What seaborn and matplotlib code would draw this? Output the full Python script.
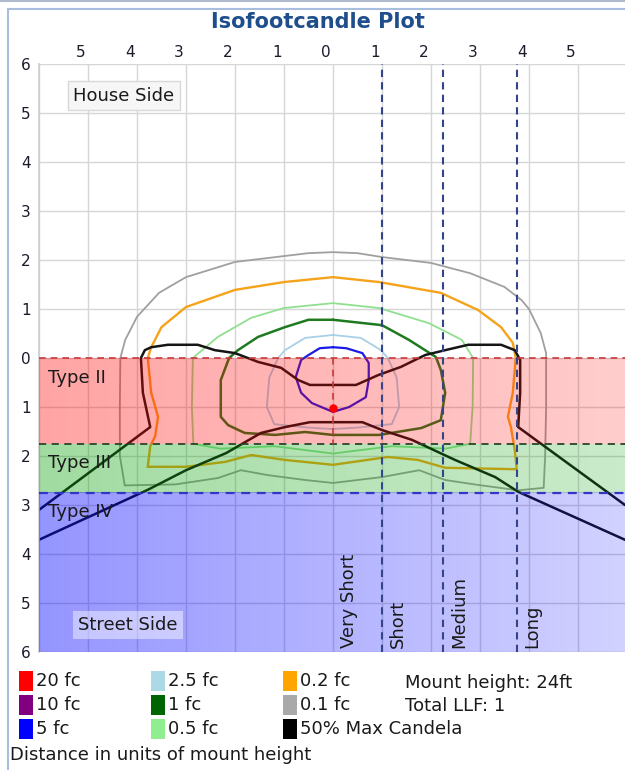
import numpy as np
import matplotlib
matplotlib.use("Agg")
import matplotlib.pyplot as plt
import seaborn as sns
from matplotlib.patches import Rectangle
from matplotlib.transforms import ScaledTranslation

# Isofootcandle contours (units of mount height)
gray_x = [-4.25, -4.35, -4.35, -4.34, -4.24, -4.0, -3.55, -3.0, -2.0, -1.0, -0.5, 0.0, 0.5, 1.0, 2.0, 2.8, 3.5,
          3.85, 4.0, 4.24, 4.35, 4.35, 4.33, 4.3, 3.78, 2.96, 2.29, 1.76, 1.0, 0.0, -0.57, -1.33, -1.88, -2.35,
          -3.22, -4.25]
gray_y = [-2.6, -2.0, -1.0, 0.0, 0.37, 0.84, 1.33, 1.65, 1.96, 2.08, 2.14, 2.16, 2.14, 2.06, 1.94, 1.73, 1.45,
          1.18, 1.0, 0.51, 0.1, -1.0, -2.0, -2.65, -2.7, -2.59, -2.49, -2.29, -2.43, -2.55, -2.49, -2.39, -2.29,
          -2.45, -2.58, -2.6]

orange_x = [-3.78, -3.73, -3.63, -3.57, -3.71, -3.78, -3.71, -3.5, -3.0, -2.0, -1.0, 0.0, 0.94, 2.2, 2.96, 3.43,
            3.67, 3.73, 3.67, 3.57, 3.63, 3.71, 3.75, 2.29, 1.73, 1.12, 0.0, -0.98, -1.67, -2.2, -3.0, -3.78]
orange_y = [-2.22, -1.8, -1.6, -1.2, -0.71, 0.0, 0.22, 0.63, 1.04, 1.39, 1.55, 1.65, 1.55, 1.33, 0.98, 0.63,
            0.31, 0.0, -0.71, -1.2, -1.4, -1.88, -2.27, -2.24, -2.08, -2.02, -2.18, -2.08, -1.98, -2.12, -2.22, -2.22]

lgreen_x = [-2.86, -2.35, -1.67, -1.0, 0.0, 0.94, 1.96, 2.63, 2.86, 2.85, 2.8, 2.3, 1.2, 0.0, -1.2, -2.3, -2.85,
            -2.88, -2.86]
lgreen_y = [0.0, 0.43, 0.82, 1.02, 1.12, 1.02, 0.71, 0.37, 0.0, -1.0, -1.75, -1.85, -1.8, -1.95, -1.8, -1.85,
            -1.75, -1.0, 0.0]

dgreen_x = [0.0, 1.0, 1.55, 2.1, 2.2, 2.29, 2.2, 1.8, 0.94, 0.0, -0.57, -1.18, -1.8, -2.14, -2.29, -2.29, -2.12,
            -1.94, -1.53, -0.98, -0.5, 0.0]
dgreen_y = [0.78, 0.67, 0.37, 0.02, -0.24, -0.71, -1.27, -1.43, -1.57, -1.57, -1.51, -1.57, -1.53, -1.37, -1.2,
            -0.45, 0.0, 0.16, 0.43, 0.63, 0.78, 0.78]

lblue_x = [0.0, 0.57, 0.98, 1.12, 1.3, 1.35, 1.2, 0.5, 0.0, -0.5, -1.2, -1.35, -1.3, -1.12, -0.98, -0.57, 0.0]
lblue_y = [0.47, 0.41, 0.16, 0.0, -0.4, -1.0, -1.35, -1.42, -1.45, -1.42, -1.35, -1.0, -0.4, 0.0, 0.16, 0.41, 0.47]

blue_x = [0.0, 0.27, 0.6, 0.73, 0.73, 0.67, 0.33, 0.0, -0.43, -0.65, -0.76, -0.65, -0.5, -0.27, 0.0]
blue_y = [0.22, 0.2, 0.1, -0.1, -0.45, -0.8, -1.0, -1.1, -0.92, -0.71, -0.39, -0.04, 0.06, 0.2, 0.22]

# 50% max candela trace (two branches)
cand1_x = [-6.0, -3.73, -3.88, -3.92, -3.84, -3.71, -3.37, -2.76, -2.41, -2.0, -1.53, -1.06, -0.71, -0.47, 0.47,
           0.92, 1.39, 1.88, 2.29, 2.76, 3.43, 3.71, 3.82, 3.82, 3.78, 5.96]
cand1_y = [-3.1, -1.41, -0.71, 0.0, 0.16, 0.22, 0.27, 0.27, 0.16, 0.1, -0.08, -0.2, -0.45, -0.55, -0.55, -0.35,
           -0.18, 0.06, 0.16, 0.27, 0.27, 0.16, -0.04, -0.71, -1.41, -3.0]
cand2_x = [-6.0, -3.78, -3.0, -2.18, -1.47, -0.98, -0.47, 0.6, 1.0, 1.61, 2.49, 3.31, 3.78, 5.96]
cand2_y = [-3.71, -2.69, -2.29, -1.94, -1.53, -1.41, -1.31, -1.31, -1.47, -1.67, -2.08, -2.43, -2.73, -3.71]

lamp_x = [0.0]
lamp_y = [-1.02]

# legend entries
legend_labels = ["20 fc", "10 fc", "5 fc", "2.5 fc", "1 fc", "0.5 fc", "0.2 fc", "0.1 fc", "50% Max Candela"]
legend_colors = ["#ff0000", "#800080", "#0000ff", "#add8e6", "#006400", "#90ee90", "#ffa500", "#a9a9a9", "#000000"]

# lateral types and longitudinal ranges
type_names = ["Type II", "Type III", "Type IV"]
type_tops = [0.0, -1.75, -2.75]
type_bottoms = [-1.75, -2.75, -6.0]
range_names = ["Very Short", "Short", "Medium", "Long"]
range_starts = [0.0, 1.0, 2.25, 3.75]

sns.set_theme(style="white")
plt.rcParams["font.family"] = ["DejaVu Sans"]

fig = plt.figure(figsize=(6.25, 7.7), dpi=100)
W, H = 625.0, 770.0
ax = fig.add_axes([39 / W, (H - 652) / H, (625 - 39) / W, (652 - 64) / H])
x_lo, x_hi = -6.0, 5.96

# contours (under the tinted bands)
contours = [
    (gray_x, gray_y, "#a0a0a0", 1.3),
    (orange_x, orange_y, "#f5a31a", 1.7),
    (lgreen_x, lgreen_y, "#90e090", 1.3),
    (dgreen_x, dgreen_y, "#1f7a1f", 1.8),
    (lblue_x, lblue_y, "#a8d0e6", 1.3),
    (blue_x, blue_y, "#1a1ae6", 1.6),
    (cand1_x, cand1_y, "#151515", 1.8),
    (cand2_x, cand2_y, "#151515", 1.8),
]
for cx, cy, col, lw in contours:
    sns.lineplot(x=cx, y=cy, sort=False, estimator=None, color=col, linewidth=lw, ax=ax, zorder=2)

# tinted bands with a left-to-right fade
band_rgb = [(1.0, 0.0, 0.0), (0.0, 0.62, 0.0), (0.0, 0.0, 1.0)]
band_alpha = [(0.36, 0.2), (0.37, 0.21), (0.42, 0.18)]
for rgb, (a0, a1), top, bot in zip(band_rgb, band_alpha, type_tops, type_bottoms):
    img = np.zeros((1, 256, 4))
    img[..., :3] = rgb
    img[..., 3] = np.linspace(a0, a1, 256)
    ax.imshow(img, extent=[x_lo, x_hi, bot, top], aspect="auto", interpolation="bilinear", zorder=3)

# type boundaries
ax.axhline(type_tops[0], color="#c83a3a", ls=(0, (4, 3)), lw=1.2, zorder=4)
ax.axhline(type_tops[1], color="#2a452a", ls=(0, (4, 3)), lw=1.3, zorder=4)
ax.axhline(type_tops[2], color="#3434c8", ls=(0, (4, 3)), lw=1.6, zorder=4)
ax.plot([0, 0], [type_tops[0], type_bottoms[0]], color="#c83a3a", ls=(0, (4, 3)), lw=1.2, zorder=4)
for xs in range_starts[1:]:
    ax.axvline(xs, color="#34448a", ls=(0, (3.5, 2.5)), lw=1.5, zorder=4)

ax.scatter(lamp_x, lamp_y, s=36, color="#ff0000", zorder=6, linewidths=0)

for name, top in zip(type_names, type_tops):
    ax.text(-5.82, top - 0.4, name, fontsize=13, color="#1a1a1a", ha="left", va="center", zorder=5)
for name, xs in zip(range_names, range_starts):
    ax.text(xs + 0.32, -5.92, name, fontsize=13, color="#1a1a1a", rotation=90, ha="center", va="bottom", zorder=5)

ax.text(-4.27, 5.35, "House Side", fontsize=13, color="#1a1a1a", ha="center", va="center", zorder=5,
        bbox=dict(boxstyle="square,pad=0.3", fc="#f6f6f6", ec="#d8d8d8", lw=1))
ax.text(-4.18, -5.45, "Street Side", fontsize=13, color="#1a1a1a", ha="center", va="center", zorder=5,
        bbox=dict(boxstyle="square,pad=0.3", fc="#ffffff", ec="none", alpha=0.45))

ax.set_xlim(x_lo, x_hi)
ax.set_ylim(-6, 6)
ax.set_xticks(np.arange(-6, 6))
ax.set_xticklabels([""] + [str(abs(v)) for v in range(-5, 6)])
ax.set_yticks(np.arange(-6, 7))
ax.set_yticklabels([str(abs(v)) for v in range(-6, 7)])
ax.xaxis.tick_top()
ax.tick_params(axis="x", length=0, pad=3, labelsize=11, labelcolor="#1a1a2a")
ax.tick_params(axis="y", length=0, pad=6, labelsize=11, labelcolor="#1a1a2a")
for lab in ax.get_xticklabels():
    lab.set_transform(lab.get_transform() + ScaledTranslation(-0.07, 0, fig.dpi_scale_trans))
ax.grid(True, color="#d6d6d6", lw=1)
ax.set_axisbelow(True)
for sp in ax.spines.values():
    sp.set_visible(False)
ax.spines["left"].set_visible(True)
ax.spines["left"].set_color("#d0d0d0")

fig.text(318 / W, 1 - 22 / H, "Isofootcandle Plot", fontsize=15, fontweight="bold", color="#1f4e8c",
         ha="center", va="center")

# legend, laid out in three columns as in the source
col_px = [19, 151, 283]
row_px = [681, 705, 729]
for i, (lab, col) in enumerate(zip(legend_labels, legend_colors)):
    cx = col_px[i // 3]
    cy = row_px[i % 3]
    fig.patches.append(Rectangle((cx / W, 1 - (cy + 10) / H), 14 / W, 20 / H, transform=fig.transFigure,
                                 fc=col, ec="none"))
    fig.text((cx + 17) / W, 1 - cy / H, lab, fontsize=13, color="#1a1a1a", ha="left", va="center")

fig.text(405 / W, 1 - 683 / H, "Mount height: 24ft", fontsize=13, color="#1a1a1a", ha="left", va="center")
fig.text(405 / W, 1 - 706 / H, "Total LLF: 1", fontsize=13, color="#1a1a1a", ha="left", va="center")
fig.text(10 / W, 1 - 755 / H, "Distance in units of mount height", fontsize=13, color="#1a1a1a",
         ha="left", va="center")

# outer frame
fig.lines.append(plt.Line2D([8 / W, 8 / W], [0, 1 - 9 / H], transform=fig.transFigure, color="#a8bedc", lw=1.5))
fig.lines.append(plt.Line2D([8 / W, 1], [1 - 9 / H, 1 - 9 / H], transform=fig.transFigure, color="#a8bedc", lw=1.5))
fig.lines.append(plt.Line2D([0, 1], [1 - 1 / H, 1 - 1 / H], transform=fig.transFigure, color="#b0bccc", lw=1.5))

fig.savefig("out.png", dpi=100)
